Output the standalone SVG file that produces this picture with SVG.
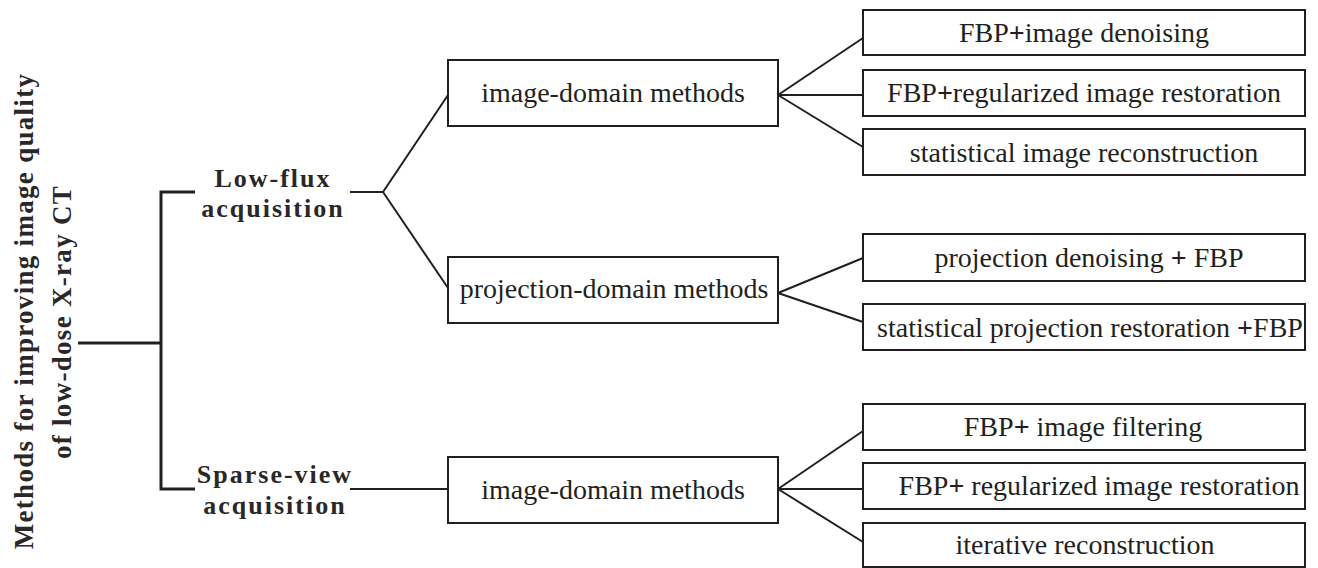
<svg xmlns="http://www.w3.org/2000/svg" width="1318" height="568" viewBox="0 0 1318 568">
  <style>
    .box { fill: #ffffff; stroke: #231f20; stroke-width: 2; }
    .t { font-family: "Liberation Serif", "Times New Roman", serif; font-size: 28px; fill: #231f20; text-anchor: middle; }
    .b { font-family: "Liberation Serif", "Times New Roman", serif; font-size: 26px; font-weight: bold; fill: #2b2728; text-anchor: middle; letter-spacing: 2px; }
    .title { font-family: "Liberation Serif", "Times New Roman", serif; font-size: 27px; font-weight: bold; fill: #2b2728; text-anchor: middle; letter-spacing: 1.3px; }
    .pl { font-weight: bold; }
    .c { fill: none; stroke: #231f20; stroke-width: 2; }
    .ck { fill: none; stroke: #231f20; stroke-width: 3; }
  </style>
  <rect width="1318" height="568" fill="#ffffff"/>

  <g id="connectors">
    <line class="ck" x1="78" y1="343" x2="161" y2="343"/>
    <polyline class="ck" points="195,192 161,192 161,489 195,489"/>
    <line class="c" x1="350" y1="192" x2="383" y2="192"/>
    <line class="c" x1="383" y1="192" x2="448" y2="95"/>
    <line class="c" x1="383" y1="192" x2="448" y2="288"/>
    <line class="c" x1="350" y1="489" x2="448" y2="489"/>
    <line class="c" x1="778" y1="95" x2="863" y2="38"/>
    <line class="c" x1="778" y1="95" x2="863" y2="95"/>
    <line class="c" x1="778" y1="95" x2="863" y2="147"/>
    <line class="c" x1="778" y1="293" x2="863" y2="258"/>
    <line class="c" x1="778" y1="293" x2="863" y2="322"/>
    <line class="c" x1="778" y1="489" x2="863" y2="431"/>
    <line class="c" x1="778" y1="489" x2="863" y2="489"/>
    <line class="c" x1="778" y1="489" x2="863" y2="542"/>
  </g>

  <g id="root">
    <text class="title" transform="translate(33,311) rotate(-90)">Methods for improving image quality</text>
    <text class="title" transform="translate(71,322) rotate(-90)">of low-dose X-ray CT</text>
  </g>

  <g id="low-flux">
    <text class="b" x="273" y="187">Low-flux</text>
    <text class="b" x="273" y="217">acquisition</text>
  </g>

  <g id="sparse-view">
    <text class="b" x="275" y="483">Sparse-view</text>
    <text class="b" x="275" y="514">acquisition</text>
  </g>

  <g id="image-domain-1">
    <rect class="box" x="448" y="60" width="330" height="66"/>
    <text class="t" x="613" y="102">image-domain methods</text>
  </g>

  <g id="projection-domain">
    <rect class="box" x="448" y="257" width="330" height="66"/>
    <text class="t" x="614" y="298">projection-domain methods</text>
  </g>

  <g id="image-domain-2">
    <rect class="box" x="448" y="457" width="330" height="66"/>
    <text class="t" x="613" y="499">image-domain methods</text>
  </g>

  <g id="fbp-image-denoising">
    <rect class="box" x="863" y="10" width="442" height="45"/>
    <text class="t" x="1084" y="42">FBP<tspan class="pl">+</tspan>image denoising</text>
  </g>

  <g id="fbp-regularized-1">
    <rect class="box" x="863" y="70" width="442" height="46"/>
    <text class="t" x="1084" y="102">FBP<tspan class="pl">+</tspan>regularized image restoration</text>
  </g>

  <g id="statistical-image-reconstruction">
    <rect class="box" x="863" y="129" width="442" height="46"/>
    <text class="t" x="1084" y="162">statistical image reconstruction</text>
  </g>

  <g id="projection-denoising">
    <rect class="box" x="863" y="234" width="442" height="47"/>
    <text class="t" x="1089" y="267">projection denoising <tspan class="pl">+</tspan> FBP</text>
  </g>

  <g id="statistical-projection-restoration">
    <rect class="box" x="863" y="304" width="442" height="46"/>
    <text class="t" x="1090" y="337">statistical projection restoration <tspan class="pl">+</tspan>FBP</text>
  </g>

  <g id="fbp-image-filtering">
    <rect class="box" x="863" y="404" width="442" height="46"/>
    <text class="t" x="1083" y="436">FBP<tspan class="pl">+</tspan> image filtering</text>
  </g>

  <g id="fbp-regularized-2">
    <rect class="box" x="863" y="463" width="442" height="46"/>
    <text class="t" x="1099" y="495">FBP<tspan class="pl">+</tspan> regularized image restoration</text>
  </g>

  <g id="iterative-reconstruction">
    <rect class="box" x="863" y="523" width="442" height="44"/>
    <text class="t" x="1085" y="554">iterative reconstruction</text>
  </g>
</svg>
